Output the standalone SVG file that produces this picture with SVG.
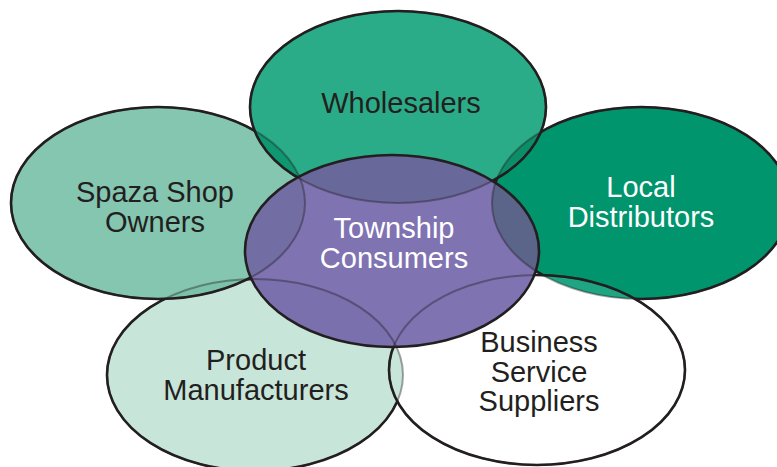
<svg xmlns="http://www.w3.org/2000/svg" width="777" height="467" viewBox="0 0 777 467">
<style>
.edge{fill:none;stroke:#231f20;stroke-width:2.6}
.faint{fill:none;stroke:#231f20;stroke-width:2;stroke-opacity:0.4}
.lbl{font-family:"Liberation Sans",Arial,Helvetica,sans-serif;font-size:29px;text-anchor:middle}
.dark{fill:#231f20}
.light{fill:#ffffff}
</style>
<defs>
<ellipse id="eP" cx="255" cy="375" rx="148" ry="96"/>
<ellipse id="eL" cx="641" cy="203" rx="149" ry="96"/>
<ellipse id="eS" cx="158" cy="203" rx="147" ry="96"/>
<ellipse id="eB" cx="537" cy="370" rx="148" ry="95"/>
<ellipse id="eW" cx="398" cy="107" rx="148" ry="96"/>
<ellipse id="eT" cx="392" cy="251" rx="147" ry="96"/>
<clipPath id="cP"><use href="#eP"/></clipPath>
<clipPath id="cL"><use href="#eL"/></clipPath>
<clipPath id="cS"><use href="#eS"/></clipPath>
<clipPath id="cB"><use href="#eB"/></clipPath>
<clipPath id="cW"><use href="#eW"/></clipPath>
<clipPath id="cT"><use href="#eT"/></clipPath>
</defs>
<rect width="777" height="467" fill="#ffffff"/>

<g id="product-manufacturers">
<use href="#eP" fill="#c8e5da"/>
<use href="#eP" class="edge"/>
</g>

<g id="local-distributors">
<use href="#eL" fill="#00956c"/>
<use href="#eL" class="edge"/>
</g>

<g id="spaza-shop-owners">
<use href="#eS" fill="#84c6b0"/>
<use href="#eS" fill="#7cc1aa" clip-path="url(#cP)"/>
<use href="#eS" class="edge"/>
</g>

<g id="business-service-suppliers">
<use href="#eB" fill="#ffffff"/>
<use href="#eB" fill="#c8e5da" clip-path="url(#cP)"/>
<use href="#eB" fill="#20a583" clip-path="url(#cL)"/>
<use href="#eB" class="edge"/>
</g>

<g id="wholesalers">
<use href="#eW" fill="#2bac88"/>
<use href="#eW" fill="#0e9771" clip-path="url(#cS)"/>
<use href="#eW" fill="#0c8d69" clip-path="url(#cL)"/>
<use href="#eW" class="edge"/>
</g>

<g id="township-consumers">
<use href="#eT" fill="#7f73b2"/>
<use href="#eT" fill="#7a70ad" clip-path="url(#cP)"/>
<use href="#eT" fill="#726ea4" clip-path="url(#cS)"/>
<use href="#eT" fill="#5b6589" clip-path="url(#cL)"/>
<use href="#eT" fill="#69689a" clip-path="url(#cW)"/>
<use href="#eT" class="edge"/>
</g>

<g id="hidden-edges">
<use href="#eP" class="faint"/>
<use href="#eL" class="faint"/>
<use href="#eS" class="faint"/>
<use href="#eB" class="faint"/>
<use href="#eW" class="faint"/>
</g>

<g id="labels">
<text class="lbl dark" x="401" y="113">Wholesalers</text>
<text class="lbl dark" x="155" y="202">Spaza Shop</text>
<text class="lbl dark" x="155" y="232">Owners</text>
<text class="lbl light" x="641" y="197">Local</text>
<text class="lbl light" x="641" y="227">Distributors</text>
<text class="lbl light" x="394" y="238">Township</text>
<text class="lbl light" x="394" y="268">Consumers</text>
<text class="lbl dark" x="256" y="370">Product</text>
<text class="lbl dark" x="256" y="400">Manufacturers</text>
<text class="lbl dark" x="539" y="352">Business</text>
<text class="lbl dark" x="539" y="382">Service</text>
<text class="lbl dark" x="539" y="411">Suppliers</text>
</g>
</svg>
